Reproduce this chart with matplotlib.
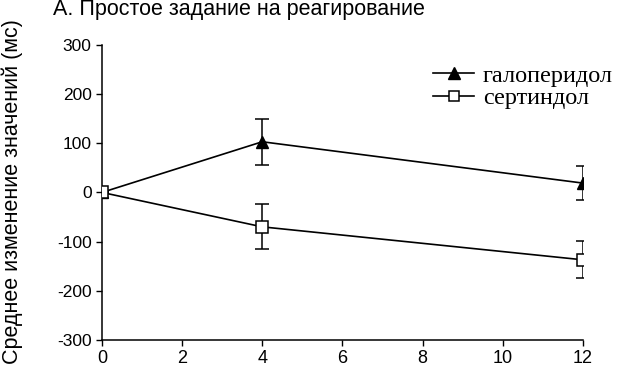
import numpy as np
import matplotlib.pyplot as plt
from matplotlib.lines import Line2D

# недели лечения
weeks = [0, 4, 12]

# среднее изменение времени реакции (мс) и стандартные ошибки
haloperidol = [0, 103, 19]
haloperidol_err = [0, 47, 35]
sertindole = [0, -70, -137]
sertindole_err = [0, 46, 38]

labels = ["галоперидол", "сертиндол"]
xticks = [0, 2, 4, 6, 8, 10, 12]
yticks = [-300, -200, -100, 0, 100, 200, 300]

plt.rcParams['font.family'] = ['Liberation Sans', 'DejaVu Sans']
plt.rcParams['axes.unicode_minus'] = False

fig = plt.figure(figsize=(6.18, 3.74), dpi=100)
ax = fig.add_axes([0.165, 0.091, 0.778, 0.789])

ax.errorbar(weeks, haloperidol, yerr=haloperidol_err, color="black", lw=1.2,
            marker="^", markersize=9, mfc="black", mec="black",
            capsize=5, elinewidth=1.1, capthick=1.1, zorder=3)
ax.errorbar(weeks, sertindole, yerr=sertindole_err, color="black", lw=1.2,
            marker="s", markersize=8, mfc="white", mec="black", mew=1.1,
            capsize=5, elinewidth=1.1, capthick=1.1, zorder=4)

ax.set_xlim(0, 12)
ax.set_ylim(-300, 300)
ax.set_xticks(xticks)
ax.set_yticks(yticks)
ax.tick_params(axis="x", labelsize=13, direction="out", length=4, width=1)
ax.tick_params(axis="y", labelsize=12.5, direction="out", length=4, width=1)
for side in ["top", "right"]:
    ax.spines[side].set_visible(False)
for side in ["left", "bottom"]:
    ax.spines[side].set_linewidth(1.1)

# легенда без усов погрешностей
handles = [
    Line2D([], [], color="black", lw=1.2, marker="^", markersize=9, mfc="black", mec="black"),
    Line2D([], [], color="black", lw=1.2, marker="s", markersize=7, mfc="white", mec="black", mew=1.1),
]
fig.legend(handles, labels, loc="center left",
           bbox_to_anchor=(433 / 618, 1 - 87 / 374), frameon=False,
           prop={"family": "Liberation Serif", "size": 17.5},
           handlelength=1.7, handletextpad=0.35, labelspacing=0.0,
           borderpad=0, borderaxespad=0)

fig.text(12 / 618, 0.487, "Среднее изменение значений (мс)", rotation=90,
         ha="center", va="center", fontsize=15.5)
fig.text(0.085, 1 - 15.5 / 374, "А. Простое задание на реагирование",
         ha="left", va="baseline", fontsize=15.5)

fig.savefig("out.png", dpi=100)
